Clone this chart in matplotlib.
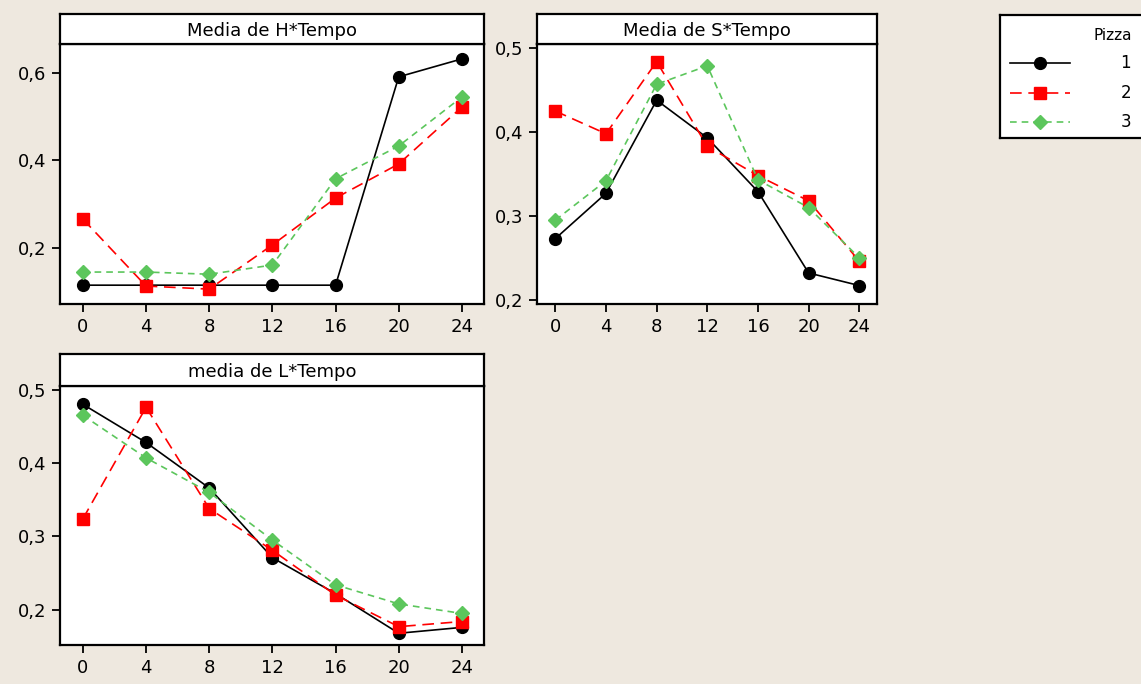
""" pizza_means.py

Minitab-style interaction plots: mean of H, S and L against Tempo,
one line per pizza.
"""

import matplotlib
matplotlib.use('Agg')
import matplotlib.pyplot as plt
from matplotlib.ticker import FuncFormatter

# data
tempo = [0, 4, 8, 12, 16, 20, 24]
pizzas = ['1', '2', '3']

h_means = {
    '1': [0.115, 0.115, 0.115, 0.115, 0.115, 0.591, 0.632],
    '2': [0.266, 0.113, 0.106, 0.207, 0.314, 0.392, 0.522],
    '3': [0.145, 0.145, 0.140, 0.161, 0.358, 0.433, 0.545],
}
s_means = {
    '1': [0.273, 0.327, 0.438, 0.393, 0.329, 0.232, 0.217],
    '2': [0.425, 0.398, 0.484, 0.383, 0.348, 0.318, 0.246],
    '3': [0.295, 0.342, 0.457, 0.479, 0.343, 0.310, 0.250],
}
l_means = {
    '1': [0.480, 0.428, 0.366, 0.271, 0.222, 0.168, 0.176],
    '2': [0.324, 0.476, 0.338, 0.281, 0.220, 0.177, 0.184],
    '3': [0.465, 0.407, 0.360, 0.295, 0.234, 0.208, 0.195],
}

BG = '#EEE8DF'
W, H = 1141, 684

# per-pizza look, Minitab defaults
styles = {
    '1': dict(color='black', marker='o', linestyle='-', markersize=8.5),
    '2': dict(color='#FF0000', marker='s', linestyle=(0, (7, 4)), markersize=8),
    '3': dict(color='#5CC65C', marker='D', linestyle=(0, (4, 3)), markersize=7.5),
}

plt.rcParams['font.family'] = ['DejaVu Sans']


def px_box(x0, y0, x1, y1):
    """pixel box (top-left origin) -> figure fraction rect"""
    return [x0 / W, 1 - y1 / H, (x1 - x0) / W, (y1 - y0) / H]


def comma(v, pos):
    return f'{v:.1f}'.replace('.', ',')


def panel(fig, plot_box, strip_box, title, means, ylim, yticks):
    ax = fig.add_axes(px_box(*plot_box))
    for p in pizzas:
        ax.plot(tempo, means[p], linewidth=1.2, label=p, **styles[p])
    ax.set_xlim(-1.45, 25.4)
    ax.set_ylim(*ylim)
    ax.set_xticks(tempo)
    ax.set_yticks(yticks)
    ax.yaxis.set_major_formatter(FuncFormatter(comma))
    ax.tick_params(direction='out', length=6, width=1.3, labelsize=13,
                   colors='black', pad=4)
    for sp in ax.spines.values():
        sp.set_linewidth(1.6)
    # title strip above the plot
    st = fig.add_axes(px_box(*strip_box))
    st.set_xticks([])
    st.set_yticks([])
    for sp in st.spines.values():
        sp.set_linewidth(1.6)
    st.text(0.5, 0.45, title, ha='center', va='center', fontsize=13,
            transform=st.transAxes)
    return ax


fig = plt.figure(figsize=(W / 100, H / 100), dpi=100, facecolor=BG)

panel(fig, (60, 44, 484, 304), (60, 14, 484, 44), 'Media de H*Tempo',
      h_means, (0.072, 0.666), [0.2, 0.4, 0.6])
panel(fig, (537, 44, 877, 304), (537, 14, 877, 44), 'Media de S*Tempo',
      s_means, (0.195, 0.505), [0.2, 0.3, 0.4, 0.5])
panel(fig, (60, 386, 484, 645), (60, 354, 484, 386), 'media de L*Tempo',
      l_means, (0.152, 0.505), [0.2, 0.3, 0.4, 0.5])

# legend box, running off the right edge like the original
lg = fig.add_axes(px_box(1000, 15, 1160, 138))
lg.set_xlim(0, 160)
lg.set_ylim(123, 0)
lg.set_xticks([])
lg.set_yticks([])
for sp in lg.spines.values():
    sp.set_linewidth(1.6)
lg.text(132, 20, 'Pizza', ha='right', va='center', fontsize=11)
for i, p in enumerate(pizzas):
    yy = 48 + i * 29.5
    lg.plot([10, 70], [yy, yy], linewidth=1.2,
            **{k: v for k, v in styles[p].items() if k != 'marker'}
            | dict(marker=None))
    lg.plot([40], [yy], linestyle='none', marker=styles[p]['marker'],
            color=styles[p]['color'], markersize=styles[p]['markersize'])
    lg.text(131, yy, p, ha='right', va='center', fontsize=12)

fig.savefig('out.png', dpi=100, facecolor=BG)
